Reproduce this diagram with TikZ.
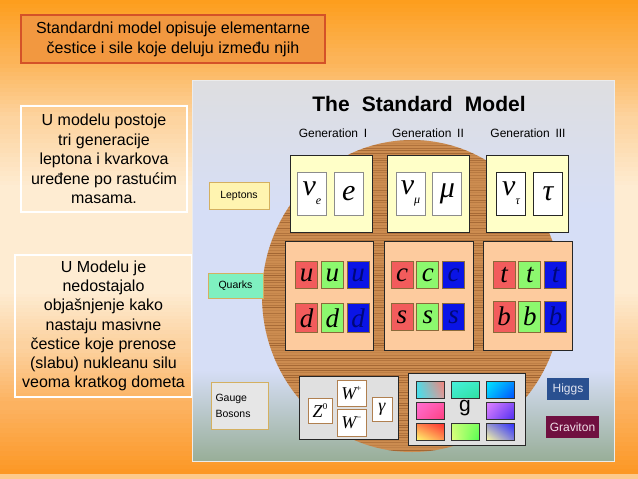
\documentclass[tikz,border=0pt]{standalone}
\usepackage{fontspec}
\setmainfont{Liberation Sans}
\newfontfamily\symfont{Liberation Serif}
\usetikzlibrary{positioning, shadings}

% slide background stops
\definecolor{bgA}{RGB}{253,158,30}
\definecolor{bgB}{RGB}{252,180,88}
\definecolor{bgC}{RGB}{253,212,160}
\definecolor{bgD}{RGB}{254,236,210}
\definecolor{bgE}{RGB}{252,210,160}
\definecolor{bgF}{RGB}{252,178,96}
\definecolor{bgG}{RGB}{252,152,38}
\definecolor{headfill}{RGB}{242,152,64}
\definecolor{headline}{RGB}{212,82,40}
\definecolor{panelgrey}{RGB}{222,222,224}
\definecolor{panelblue}{RGB}{214,222,246}
\definecolor{panelgreen}{RGB}{152,174,152}
\definecolor{woodfill}{RGB}{204,140,80}
\definecolor{grainline}{RGB}{130,72,28}
\definecolor{lepfill}{RGB}{255,255,200}
\definecolor{quarkfill}{RGB}{253,203,158}
\definecolor{qred}{RGB}{242,92,92}
\definecolor{qgreen}{RGB}{140,248,110}
\definecolor{qblue}{RGB}{10,20,230}
\definecolor{qbluetext}{RGB}{0,8,120}
\definecolor{qline}{RGB}{138,106,58}
\definecolor{tagline}{RGB}{212,176,96}
\definecolor{leptag}{RGB}{255,244,176}
\definecolor{quarktag}{RGB}{127,240,192}
\definecolor{gaugetag}{RGB}{230,230,230}
\definecolor{bosonfill}{RGB}{224,224,224}
\definecolor{bline}{RGB}{176,128,80}
\definecolor{higgsfill}{RGB}{42,80,144}
\definecolor{higgstext}{RGB}{225,228,240}
\definecolor{gravfill}{RGB}{112,16,64}
\definecolor{gravtext}{RGB}{240,224,232}
% gluon colours
\definecolor{cyanA}{RGB}{80,220,230}
\definecolor{cyanB}{RGB}{60,226,240}
\definecolor{roseA}{RGB}{245,128,120}
\definecolor{roseB}{RGB}{215,160,160}
\definecolor{aquaA}{RGB}{70,240,220}
\definecolor{aquaB}{RGB}{48,224,160}
\definecolor{skyA}{RGB}{0,232,255}
\definecolor{skyB}{RGB}{0,80,255}
\definecolor{pinkA}{RGB}{255,110,210}
\definecolor{pinkB}{RGB}{255,64,128}
\definecolor{violA}{RGB}{226,130,255}
\definecolor{violB}{RGB}{80,48,240}
\definecolor{sunA}{RGB}{255,255,112}
\definecolor{sunB}{RGB}{255,50,50}
\definecolor{limeA}{RGB}{230,255,128}
\definecolor{limeB}{RGB}{80,255,80}
\definecolor{paleA}{RGB}{255,255,160}
\definecolor{paleB}{RGB}{48,48,255}

\tikzstyle{note}=[draw=white, line width=1.2pt, align=center, inner sep=0pt, font=\fontsize{16}{19.5}\selectfont]
\tikzstyle{headbox}=[draw=headline, line width=1.6pt, fill=headfill, align=center, inner sep=0pt, font=\fontsize{16}{20}\selectfont]
\tikzstyle{tag}=[draw=tagline, line width=1pt, inner sep=0pt, font=\fontsize{10.5}{13}\selectfont]
\tikzstyle{genbox}=[draw=black!85, line width=0.9pt, inner sep=0pt]
\tikzstyle{slot}=[draw=gray!90, line width=0.9pt, fill=white, minimum width=29pt, minimum height=43pt, inner sep=0pt, font=\symfont\itshape\fontsize{30}{30}\selectfont]
\tikzstyle{quark}=[draw=qline, line width=0.8pt, minimum width=22pt, minimum height=27pt, inner sep=0pt, font=\symfont\itshape\fontsize{27}{27}\selectfont]
\tikzstyle{boson}=[draw=bline, fill=white, line width=0.9pt, inner sep=0pt, font=\symfont\itshape\fontsize{18}{18}\selectfont]
\tikzstyle{glu}=[draw=black!80, line width=0.9pt, minimum width=28pt, minimum height=17pt, inner sep=0pt]
\tikzstyle{grain}=[line width=0.7pt, grainline]

\newcommand{\lsub}[2]{#1\raisebox{-0.3em}{\fontsize{12}{12}\selectfont #2}}
\newcommand{\lsup}[2]{#1\raisebox{0.45em}{\fontsize{9}{9}\selectfont\upshape #2}}

\begin{document}
\begin{tikzpicture}[x=1pt, y=-1pt]
  \useasboundingbox (0,0) rectangle (638,479);
  % slide background, in thin bands
  \foreach \ya/\yb/\ca/\cb in {0/60/bgA/bgB, 60/120/bgB/bgC, 120/190/bgC/bgD, 190/290/bgD/bgD, 290/345/bgD/bgE, 345/405/bgE/bgF, 405/474/bgF/bgG}{
    \foreach \s in {0,...,14}{
      \pgfmathsetmacro{\pct}{\s*100/14}
      \pgfmathsetmacro{\ys}{\ya+(\yb-\ya)*\s/15}
      \pgfmathsetmacro{\ye}{\ya+(\yb-\ya)*(\s+1)/15+0.5}
      \fill[\cb!\pct!\ca] (0,\ys) rectangle (638,\ye);
    }
  }
  \fill[bgD!60!bgG] (0,473.5) rectangle (638,479);

  % text boxes on the left
  \node[headbox, minimum width=304pt, minimum height=48pt] (intro) at (173,39)
    {Standardni model opisuje elementarne\\ čestice i sile koje deluju između njih};
  \node[note, minimum width=166pt, minimum height=106pt] (generacije) at (104,159)
    {U modelu postoje\\ tri generacije\\ leptona i kvarkova\\ uređene po rastućim\\ masama.};
  \node[note, minimum width=177pt, minimum height=142pt, font=\fontsize{16}{19.2}\selectfont] (nedostaje) at (103.5,326)
    {U Modelu je\\ nedostajalo\\ objašnjenje kako\\ nastaju masivne\\ čestice koje prenose\\ (slabu) nukleanu silu\\ veoma kratkog dometa};

  % picture panel
  \shade[top color=panelgrey, bottom color=panelblue] (192,80) rectangle (614,210);
  \fill[panelblue] (192,209) rectangle (614,371);
  \shade[top color=panelblue, bottom color=panelgreen] (192,370) rectangle (614,461);
  \draw[white!85!gray, line width=1pt] (192,80) rectangle (614,461);

  % wooden disc
  \begin{scope}
    \clip (412,296) ellipse [x radius=150pt, y radius=156pt];
    \fill[woodfill] (260,138) rectangle (565,455);
    \pgfmathsetseed{42}
    \foreach \k in {0,...,125}{
      \pgfmathsetmacro{\op}{0.08+0.5*rnd}
      \pgfmathsetmacro{\yy}{140+2.5*\k+0.8*rnd}
      \draw[grain, opacity=\op] (260,\yy) -- (565,\yy);
    }
  \end{scope}

  % headings
  \node[font=\bfseries\fontsize{21}{21}\selectfont] (smtitle) at (419,104) {The\hspace{0.3em} Standard\hspace{0.3em} Model};
  \node[font=\fontsize{12}{12}\selectfont] (genI) at (333,133) {Generation\hspace{0.2em} I};
  \node[font=\fontsize{12}{12}\selectfont] (genII) at (428,133) {Generation\hspace{0.2em} II};
  \node[font=\fontsize{12}{12}\selectfont] (genIII) at (528,133) {Generation\hspace{0.2em} III};

  % leptons
  \node[tag, fill=leptag, minimum width=60pt, minimum height=27pt] (leptons) at (239,195.5) {Leptons};
  \node[genbox, fill=lepfill, minimum width=82pt, minimum height=77pt] (lepI) at (331,193.5) {};
  \node[genbox, fill=lepfill, minimum width=82pt, minimum height=77pt] (lepII) at (428.5,193.5) {};
  \node[genbox, fill=lepfill, minimum width=82pt, minimum height=77pt] (lepIII) at (527.5,193.5) {};
  \node[slot] (nue) at (312,193.5) {\lsub{ν}{e}};
  \node[slot, right=7pt of nue] (el) {e};
  \node[slot] (num) at (410.5,193.5) {\lsub{ν}{μ}};
  \node[slot, right=7pt of num] (mu) {μ};
  \node[slot, draw=black!85] (nut) at (511,193.5) {\lsub{ν}{τ}};
  \node[slot, draw=black!85, right=7pt of nut] (tau) {τ};

  % quarks
  \node[tag, fill=quarktag, minimum width=55pt, minimum height=25pt] (quarks) at (235.5,285.5) {Quarks};
  \node[genbox, fill=quarkfill, minimum width=88pt, minimum height=109pt] (qI) at (329,295.5) {};
  \node[genbox, fill=quarkfill, minimum width=89pt, minimum height=109pt] (qII) at (428.5,295.5) {};
  \node[genbox, fill=quarkfill, minimum width=89pt, minimum height=109pt] (qIII) at (527.5,295.5) {};
  \node[quark, fill=qred] (ur) at (306.5,275) {u};
  \node[quark, fill=qgreen, right=3pt of ur] (ug) {u};
  \node[quark, fill=qblue, text=qbluetext, right=3pt of ug] (ub) {u};
  \node[quark, fill=qred, minimum height=29pt] (dr) at (306.5,318) {d};
  \node[quark, fill=qgreen, minimum height=29pt, right=3pt of dr] (dg) {d};
  \node[quark, fill=qblue, text=qbluetext, minimum height=29pt, right=3pt of dg] (db) {d};
  \node[quark, fill=qred] (cr) at (402,275) {c};
  \node[quark, fill=qgreen, right=3pt of cr] (cg) {c};
  \node[quark, fill=qblue, text=qbluetext, right=3pt of cg] (cb) {c};
  \node[quark, fill=qred] (sr) at (402,317) {s};
  \node[quark, fill=qgreen, right=3pt of sr] (sg) {s};
  \node[quark, fill=qblue, text=qbluetext, right=3pt of sg] (sb) {s};
  \node[quark, fill=qred] (tr) at (504,275) {t};
  \node[quark, fill=qgreen, right=3pt of tr] (tg) {t};
  \node[quark, fill=qblue, text=qbluetext, right=3pt of tg] (tb) {t};
  \node[quark, fill=qred, minimum height=31pt] (br) at (504,316.5) {b};
  \node[quark, fill=qgreen, minimum height=31pt, right=3pt of br] (bg) {b};
  \node[quark, fill=qblue, text=qbluetext, minimum height=31pt, right=3pt of bg] (bb) {b};

  % gauge bosons
  \node[tag, fill=gaugetag, minimum width=57pt, minimum height=47pt, text width=48pt, align=left, font=\fontsize{10.5}{16}\selectfont] (gauge) at (239.5,405.5) {Gauge\\ Bosons\\[4pt]};
  \node[genbox, fill=bosonfill, minimum width=99pt, minimum height=63pt] (weak) at (348.5,407.5) {};
  \node[boson, minimum width=24pt, minimum height=25pt] (zzero) at (320,410.5) {\lsup{Z}{0}};
  \node[boson, minimum width=29pt, minimum height=26pt] (wplus) at (351.5,393) {\lsup{W}{+}};
  \node[boson, minimum width=29pt, minimum height=27pt] (wminus) at (351.5,422.5) {\lsup{W}{−}};
  \node[boson, minimum width=20pt, minimum height=24pt] (photon) at (382,409) {γ};
  \node[genbox, fill=bosonfill, minimum width=117pt, minimum height=72pt] (strong) at (466.5,409) {};
  \node[glu, upper left=cyanA, upper right=roseA, lower left=cyanB, lower right=roseB] (gaa) at (430,389.5) {};
  \node[glu, upper left=aquaA, upper right=aquaA!60!aquaB, lower left=aquaA!50!aquaB, lower right=aquaB] (gab) at (465,389.5) {};
  \node[glu, upper left=skyA, upper right=skyA!40!skyB, lower left=skyA!70!skyB, lower right=skyB] (gac) at (500,389.5) {};
  \node[glu, upper left=pinkA, upper right=pinkA!50!pinkB, lower left=pinkA!70!pinkB, lower right=pinkB] (gba) at (430,410.5) {};
  \node[font=\fontsize{21}{21}\selectfont] (gluon) at (465,408) {g};
  \node[glu, upper left=violA, upper right=violA!40!violB, lower left=violA!70!violB, lower right=violB] (gbc) at (500,410.5) {};
  \node[glu, upper left=sunA!40!sunB, upper right=sunB, lower left=sunA, lower right=sunA!50!sunB] (gca) at (430,432) {};
  \node[glu, upper left=limeA!80!limeB, upper right=limeA!30!limeB, lower left=limeA, lower right=limeB] (gcb) at (465,432) {};
  \node[glu, upper left=paleA!50!paleB, upper right=paleB, lower left=paleA, lower right=paleA!40!paleB] (gcc) at (500,432) {};
  \node[fill=higgsfill, text=higgstext, minimum width=42pt, minimum height=22pt, inner sep=0pt, font=\fontsize{12}{12}\selectfont] (higgs) at (568,389) {Higgs};
  \node[fill=gravfill, text=gravtext, minimum width=53pt, minimum height=22pt, inner sep=0pt, font=\fontsize{12}{12}\selectfont] (graviton) at (572.5,427) {Graviton};
\end{tikzpicture}
\end{document}
